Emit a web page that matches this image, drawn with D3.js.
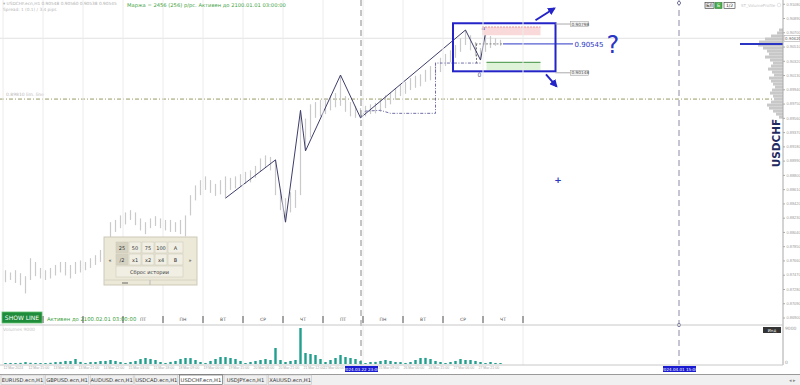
<!DOCTYPE html>
<html>
<head>
<meta charset="utf-8">
<script src="https://cdn.jsdelivr.net/npm/d3@7"></script>
<style>
  body { margin: 0; background: #fff; }
  svg { display: block; font-family: "DejaVu Sans", sans-serif; }
</style>
</head>
<body>
<div id="chart"></div>
<script>
// H1 chart shown as 3-hour bars (8 per trading day), 12 Mar - 28 Mar 2024
const barHighs = [
  0.8753, 0.8750, 0.8753, 0.8749, 0.8745, 0.8769, 0.8764, 0.8756, 0.8753, 0.8756,
  0.8760, 0.8764, 0.8764, 0.8760, 0.8764, 0.8766, 0.8764, 0.8769, 0.8773, 0.8780,
  0.8793, 0.8817, 0.8820, 0.8826, 0.8830, 0.8833, 0.8830, 0.8822, 0.8817, 0.8822,
  0.8825, 0.8822, 0.8820, 0.8820, 0.8817, 0.8820, 0.8826, 0.8853, 0.8866, 0.8873,
  0.8878, 0.8873, 0.8868, 0.8873, 0.8878, 0.8876, 0.8878, 0.8881, 0.8884, 0.8886,
  0.8892, 0.8902, 0.8906, 0.8904, 0.8900, 0.8860, 0.8849, 0.8857, 0.8860, 0.8966,
  0.8955, 0.8974, 0.8977, 0.8980, 0.8982, 0.8986, 0.8989, 0.9013, 0.8985, 0.8977,
  0.8972, 0.8969, 0.8972, 0.8974, 0.8976, 0.8980, 0.8986, 0.8990, 0.8996, 0.9000,
  0.9004, 0.9009, 0.9012, 0.9014, 0.9020, 0.9025, 0.9030, 0.9036, 0.9041, 0.9046,
  0.9053, 0.9062, 0.9073, 0.9066, 0.9057, 0.9049, 0.9069, 0.9065, 0.9062, 0.9060
];
const barLows = [
  0.8737, 0.8740, 0.8736, 0.8733, 0.8722, 0.8740, 0.8745, 0.8742, 0.8740, 0.8742,
  0.8746, 0.8750, 0.8746, 0.8742, 0.8748, 0.8750, 0.8753, 0.8756, 0.8760, 0.8764,
  0.8772, 0.8786, 0.8804, 0.8809, 0.8814, 0.8820, 0.8813, 0.8806, 0.8801, 0.8809,
  0.8812, 0.8809, 0.8806, 0.8804, 0.8804, 0.8801, 0.8798, 0.8826, 0.8846, 0.8853,
  0.8860, 0.8856, 0.8852, 0.8854, 0.8849, 0.8860, 0.8862, 0.8865, 0.8868, 0.8870,
  0.8876, 0.8884, 0.8889, 0.8886, 0.8853, 0.8833, 0.8817, 0.8830, 0.8836, 0.8853,
  0.8912, 0.8930, 0.8956, 0.8958, 0.8961, 0.8966, 0.8970, 0.8972, 0.8964, 0.8958,
  0.8956, 0.8956, 0.8958, 0.8961, 0.8962, 0.8964, 0.8969, 0.8974, 0.8980, 0.8985,
  0.8988, 0.8993, 0.8996, 0.8998, 0.9004, 0.9006, 0.9012, 0.9017, 0.9025, 0.9030,
  0.9036, 0.9044, 0.9053, 0.9046, 0.9038, 0.9033, 0.9044, 0.9049, 0.9052, 0.9052
];
const volumes = [
  250, 260, 240, 280, 480, 300, 260, 240,
  240, 300, 480, 520, 760, 740, 1250, 520,
  260, 480, 500, 740, 760, 1000, 760, 480,
  260, 500, 760, 1240, 1500, 1260, 1000, 500,
  260, 520, 760, 1260, 1500, 1480, 1000, 500,
  260, 760, 1250, 1750, 1740, 1500, 1260, 760,
  250, 500, 760, 1000, 1240, 1000, 4000, 1000,
  500, 760, 1000, 9000, 2750, 2500, 2250, 1250,
  500, 1000, 1500, 2250, 1750, 1500, 1250, 760,
  250, 500, 520, 760, 1000, 760, 500, 480,
  260, 500, 1000, 1500, 1520, 1250, 760, 500,
  250, 500, 760, 1250, 1000, 1000, 760, 500,
  250, 500, 260, 240
];
// first three day labels sit under the SHOW LINE button and status text
const dayLabels = ["ВТ", "СР", "ЧТ", "ПТ", "ПН", "ВТ", "СР", "ЧТ", "ПТ", "ПН", "ВТ", "СР", "ЧТ"];
const hiddenDays = 3;
const timeLabelBars = [0, 5, 10, 15, 20, 25, 30, 35, 40, 45, 50, 55, 60, 64, 75, 80, 85, 90, 95];
const timeLabelTexts = ["12 Mar 2024", "12 Mar 15:00", "13 Mar 06:00", "13 Mar 21:00", "14 Mar 12:00",
  "15 Mar 03:00", "15 Mar 18:00", "18 Mar 09:00", "19 Mar 00:00", "19 Mar 15:00", "20 Mar 06:00",
  "20 Mar 21:00", "21 Mar 12:00", "22 Mar 00:00", "25 Mar 09:00", "26 Mar 00:00", "26 Mar 15:00",
  "27 Mar 06:00", "27 Mar 21:00"];
const priceTicks = [0.9108, 0.9089, 0.9070, 0.9051, 0.9032, 0.9013, 0.8994, 0.8975, 0.8956, 0.8937,
  0.8918, 0.8899, 0.8880, 0.8861, 0.8842, 0.8823, 0.8804, 0.8785, 0.8766, 0.8747, 0.8728, 0.8709, 0.8690];
const zigzagBars = [44, 54, 56, 59, 60, 67, 71, 92, 95, 96];
const zigzagPrices = [0.8849, 0.8900, 0.8817, 0.8966, 0.8912, 0.9013, 0.8956, 0.9073, 0.9033, 0.9069];
const stepBars = [71, 72, 75, 77, 86, 86, 95];
const stepPrices = [0.8957, 0.8965, 0.8966, 0.8962, 0.8962, 0.9029, 0.9029];
const profilePrices = [0.9073, 0.9069, 0.9065, 0.9061, 0.9057, 0.9053, 0.9049, 0.9045, 0.9041, 0.9037,
  0.9033, 0.9029, 0.9025, 0.9021, 0.9017, 0.9013, 0.9009, 0.9005, 0.9001, 0.8997,
  0.8993, 0.8989, 0.8985, 0.8981, 0.8977, 0.8973, 0.8969, 0.8965, 0.8961, 0.8957];
const profileVolumes = [16, 24, 48, 72, 96, 100, 80, 64, 56, 72, 52, 40, 48, 60, 44, 36, 56, 48, 40, 32,
  44, 52, 40, 36, 48, 64, 56, 40, 28, 16];
const tabs = ["EURUSD.ecn,H1", "GBPUSD.ecn,H1", "AUDUSD.ecn,H1", "USDCAD.ecn,H1",
  "USDCHF.ecn,H1", "USDJPY.ecn,H1", "XAUUSD.ecn,H1"];
const activeTab = "USDCHF.ecn,H1";
const levelPrice = 0.90545, bidPrice = 0.9062, limPrice = 0.8981;

const W = 800, H = 385;
const plotRight = 783, mainBottom = 325, volBottom = 365;

const svg = d3.select("#chart").append("svg").attr("width", W).attr("height", H);
svg.append("rect").attr("width", W).attr("height", H).attr("fill", "#fff");

// scales
const x = d3.scaleLinear().domain([0, 100]).range([5.5, 505.5]);
const y = d3.scaleLinear().domain([0.8680, 0.9113]).range([mainBottom, 0]);
const yVol = d3.scaleLinear().domain([0, 10000]).range([364, 324]);
const xProf = d3.scaleLinear().domain([0, 100]).range([plotRight, plotRight - 25]);

svg.append("clipPath").attr("id", "clipMain")
  .append("rect").attr("width", plotRight).attr("height", mainBottom);
const main = svg.append("g").attr("clip-path", "url(#clipMain)");

// day separators / grid
const dayBounds = d3.range(dayLabels.length + 1).map(k => 8 * k - 0.5);
svg.append("g").selectAll("line").data(dayBounds).join("line")
  .attr("x1", d => x(d)).attr("x2", d => x(d))
  .attr("y1", 0).attr("y2", volBottom)
  .attr("stroke", "#ececec");

main.append("line").attr("x1", 0).attr("x2", plotRight)
  .attr("y1", y(bidPrice)).attr("y2", y(bidPrice)).attr("stroke", "#e2e2e2");
main.append("line").attr("x1", 0).attr("x2", plotRight)
  .attr("y1", y(limPrice)).attr("y2", y(limPrice))
  .attr("stroke", "#9a9a66").attr("stroke-dasharray", "4,2,1,2");
main.append("text").attr("x", 6).attr("y", y(limPrice) - 3)
  .attr("font-size", 4.5).attr("fill", "#b8b8b8").text("0.89810 lim. line");

// volume profile
main.append("g").selectAll("rect").data(profilePrices).join("rect")
  .attr("x", (d, i) => xProf(profileVolumes[i]))
  .attr("width", (d, i) => plotRight - xProf(profileVolumes[i]))
  .attr("y", d => y(d + 0.0002))
  .attr("height", d => y(d - 0.0002) - y(d + 0.0002))
  .attr("fill", "#c8c8c8");
main.append("line").attr("x1", 740).attr("x2", plotRight)
  .attr("y1", y(levelPrice)).attr("y2", y(levelPrice))
  .attr("stroke", "#2a35c4").attr("stroke-width", 2);

// bars
main.append("g").selectAll("line").data(barHighs).join("line")
  .attr("x1", (d, i) => x(i)).attr("x2", (d, i) => x(i))
  .attr("y1", d => y(d)).attr("y2", (d, i) => y(barLows[i]))
  .attr("stroke", "#cacaca").attr("stroke-width", 1.2);

// vertical dashed markers
const markers = [{ bar: 71.1, label: "2024.03.22 23:00", color: "#8a8a8a" },
                 { bar: 134.7, label: "2024.04.01 15:00", color: "#8a8aa8" }];
svg.append("g").selectAll("line").data(markers).join("line")
  .attr("x1", d => x(d.bar)).attr("x2", d => x(d.bar))
  .attr("y1", 0).attr("y2", volBottom)
  .attr("stroke", d => d.color).attr("stroke-dasharray", "6,4");
svg.append("circle").attr("cx", x(134.7)).attr("cy", 3).attr("r", 1.6)
  .attr("fill", "#fff").attr("stroke", "#7a7aa0");
svg.append("circle").attr("cx", x(134.7)).attr("cy", mainBottom).attr("r", 1.6)
  .attr("fill", "#fff").attr("stroke", "#7a7aa0");

// step (dash-dot) line
main.append("path")
  .datum(stepBars.map((b, i) => [x(b), y(stepPrices[i])]))
  .attr("d", d3.line()).attr("fill", "none")
  .attr("stroke", "#6f6fa8").attr("stroke-dasharray", "3,1.5,1,1.5");
main.append("line").attr("x1", x(94.2)).attr("x2", x(94.2))
  .attr("y1", y(levelPrice)).attr("y2", y(0.9029))
  .attr("stroke", "#777").attr("stroke-dasharray", "2,1.5");
main.append("line").attr("x1", x(94)).attr("x2", x(99.5))
  .attr("y1", y(levelPrice)).attr("y2", y(levelPrice))
  .attr("stroke", "#888").attr("stroke-dasharray", "2,1.5");

// zigzag
main.append("path")
  .datum(zigzagBars.map((b, i) => [x(b), y(zigzagPrices[i])]))
  .attr("d", d3.line()).attr("fill", "none")
  .attr("stroke", "#3d3d6b").attr("stroke-width", 1);

// annotation zones
main.append("rect").attr("x", x(95.3)).attr("width", x(107) - x(95.3))
  .attr("y", y(0.9077)).attr("height", y(0.9066) - y(0.9077))
  .attr("fill", "#f9d9d9");
main.append("line").attr("x1", x(95.3)).attr("x2", x(107))
  .attr("y1", y(0.9077)).attr("y2", y(0.9077))
  .attr("stroke", "#e29a9a").attr("stroke-dasharray", "2,1");
main.append("rect").attr("x", x(96.2)).attr("width", x(107) - x(96.2))
  .attr("y", y(0.9030)).attr("height", y(0.9019) - y(0.9030))
  .attr("fill", "#dff3d8");
main.append("line").attr("x1", x(96.2)).attr("x2", x(107))
  .attr("y1", y(0.9030)).attr("y2", y(0.9030))
  .attr("stroke", "#3f8f3f");
main.append("text").attr("x", x(95.2)).attr("y", y(0.9073)).attr("font-size", 6)
  .attr("fill", "#7a4a9a").text("a");
main.append("text").attr("x", x(94.4)).attr("y", y(0.9011)).attr("font-size", 6)
  .attr("fill", "#5a5a9a").text("0");

// blue box + arrows
main.append("rect").attr("x", x(89.5)).attr("width", x(110) - x(89.5))
  .attr("y", y(0.9082)).attr("height", y(0.9018) - y(0.9082))
  .attr("fill", "none").attr("stroke", "#2323c8").attr("stroke-width", 2);
svg.append("defs").append("marker").attr("id", "arr")
  .attr("viewBox", "0 0 10 10").attr("refX", 8).attr("refY", 5)
  .attr("markerWidth", 4).attr("markerHeight", 4).attr("orient", "auto")
  .append("path").attr("d", "M0,0L10,5L0,10z").attr("fill", "#2323c8");
const arrows = [[106, 0.9086, 109.8, 0.9102], [108.1, 0.9014, 110.2, 0.8998]];
main.append("g").selectAll("line").data(arrows).join("line")
  .attr("x1", d => x(d[0])).attr("y1", d => y(d[1]))
  .attr("x2", d => x(d[2])).attr("y2", d => y(d[3]))
  .attr("stroke", "#2323c8").attr("stroke-width", 2).attr("marker-end", "url(#arr)");

// price tags at box edges
const boxTags = [[0.9081, "0.90798"], [0.9016, "0.90148"]];
const tagG = main.append("g").selectAll("g").data(boxTags).join("g");
tagG.append("line").attr("x1", x(110)).attr("x2", x(113))
  .attr("y1", d => y(d[0])).attr("y2", d => y(d[0])).attr("stroke", "#aaa");
tagG.append("rect").attr("x", x(113)).attr("y", d => y(d[0]) - 2.5)
  .attr("width", 18).attr("height", 5).attr("fill", "#f2f2f2").attr("stroke", "#999").attr("stroke-width", 0.5);
tagG.append("text").attr("x", x(113) + 1).attr("y", d => y(d[0]) + 1.6)
  .attr("font-size", 4.3).attr("fill", "#555").text(d => d[1]);

// 0.90545 level
main.append("line").attr("x1", x(99.5)).attr("x2", x(113.5))
  .attr("y1", y(levelPrice)).attr("y2", y(levelPrice))
  .attr("stroke", "#2a35c4").attr("stroke-width", 1);
main.append("text").attr("x", x(113.8)).attr("y", y(levelPrice) + 2.6)
  .attr("font-size", 7).attr("fill", "#2a35c4").text(levelPrice.toFixed(5));
main.append("text").attr("x", x(120.2)).attr("y", y(levelPrice) + 9)
  .attr("font-size", 24).attr("fill", "#2a35c4").text("?");
main.append("text").attr("x", x(110.5)).attr("y", y(0.8873) + 3)
  .attr("font-size", 9).attr("font-weight", "bold").attr("text-anchor", "middle")
  .attr("fill", "#2a35c4").text("+");

// symbol name
svg.append("text").attr("transform", `translate(780,143) rotate(-90)`)
  .attr("text-anchor", "middle").attr("font-size", 10.5).attr("font-weight", "bold")
  .attr("fill", "#1f2a5e").text("USDCHF");

// price axis
svg.append("line").attr("x1", plotRight).attr("x2", plotRight).attr("y1", 0).attr("y2", volBottom)
  .attr("stroke", "#a8a8a8");
const yAxis = svg.append("g").attr("transform", `translate(${plotRight},0)`)
  .call(d3.axisRight(y).tickValues(priceTicks).tickSize(2).tickFormat(d3.format(".5f")));
yAxis.select(".domain").remove();
yAxis.selectAll("line").attr("stroke", "#aaa");
yAxis.selectAll("text").attr("font-size", 3.9).attr("fill", "#999").attr("dx", -1.5);
svg.append("rect").attr("x", plotRight + 1).attr("y", y(bidPrice) - 3).attr("width", 16).attr("height", 6)
  .attr("fill", "#fff").attr("stroke", "#999").attr("stroke-width", 0.5);
svg.append("text").attr("x", plotRight + 2).attr("y", y(bidPrice) + 1.5).attr("font-size", 3.9)
  .attr("fill", "#666").text(bidPrice.toFixed(5));

// day labels bar
svg.append("g").selectAll("line").data(dayBounds).join("line")
  .attr("x1", d => x(d)).attr("x2", d => x(d))
  .attr("y1", 316).attr("y2", 323).attr("stroke", "#555");
svg.append("g").selectAll("text").data(dayLabels.slice(hiddenDays)).join("text")
  .attr("x", (d, i) => x(8 * (i + hiddenDays) + 3.5)).attr("y", 321)
  .attr("text-anchor", "middle").attr("font-size", 4.5).attr("fill", "#555").text(d => d);

// volume window
svg.append("line").attr("x1", 0).attr("x2", plotRight).attr("y1", mainBottom).attr("y2", mainBottom)
  .attr("stroke", "#c8c8c8");
svg.append("line").attr("x1", 0).attr("x2", plotRight).attr("y1", volBottom).attr("y2", volBottom)
  .attr("stroke", "#c8c8c8");
svg.append("g").selectAll("rect").data(volumes).join("rect")
  .attr("x", (d, i) => x(i) - 1.2).attr("width", 2.4)
  .attr("y", d => yVol(d)).attr("height", d => yVol(0) - yVol(d))
  .attr("fill", "#22a08e");
svg.append("text").attr("x", 3).attr("y", 331).attr("font-size", 4.5).attr("fill", "#c4c4c4")
  .text("Volumes 9000");
svg.append("text").attr("x", plotRight + 2).attr("y", 330).attr("font-size", 4.5).attr("fill", "#999").text("9000");
svg.append("text").attr("x", plotRight + 2).attr("y", 364).attr("font-size", 4.5).attr("fill", "#999").text("0");
svg.append("rect").attr("x", 763).attr("y", 327).attr("width", 18).attr("height", 6).attr("fill", "#333");
svg.append("text").attr("x", 772).attr("y", 331.7).attr("text-anchor", "middle")
  .attr("font-size", 4).attr("fill", "#fff").text("Инд");

// time axis
const xAxis = svg.append("g").attr("transform", `translate(0,${volBottom})`)
  .call(d3.axisBottom(x).tickValues(timeLabelBars).tickSize(0)
    .tickFormat((d, i) => timeLabelTexts[i]));
xAxis.select(".domain").remove();
xAxis.selectAll("text").attr("font-size", 3.5).attr("fill", "#aaa")
  .attr("text-anchor", "start").attr("dx", -2.5).attr("dy", "0.4em");
const markG = svg.append("g").selectAll("g").data(markers).join("g");
markG.append("rect").attr("x", d => x(d.bar) - 16).attr("y", 366).attr("width", 33).attr("height", 6)
  .attr("fill", "#1a1ad0");
markG.append("text").attr("x", d => x(d.bar) + 0.5).attr("y", 370.5).attr("text-anchor", "middle")
  .attr("font-size", 4.1).attr("fill", "#fff").text(d => d.label);

// tab bar
svg.append("rect").attr("x", 0).attr("y", 374).attr("width", W).attr("height", 11).attr("fill", "#f0f0f0");
svg.append("line").attr("x1", 0).attr("x2", W).attr("y1", 374.5).attr("y2", 374.5).attr("stroke", "#9a9a9a");
const tabG = svg.append("g").selectAll("g").data(tabs).join("g")
  .attr("transform", (d, i) => `translate(${1 + i * 44.6},375)`);
tabG.append("rect").attr("width", 43).attr("height", 9.5)
  .attr("fill", d => d === activeTab ? "#fff" : "#f0f0f0")
  .attr("stroke", d => d === activeTab ? "#555" : "#c0c0c0").attr("stroke-width", 0.6);
tabG.append("text").attr("x", 21.5).attr("y", 6.6).attr("text-anchor", "middle")
  .attr("font-size", 5.2).attr("fill", "#333").text(d => d);
svg.append("text").attr("x", 789).attr("y", 382).attr("font-size", 5).attr("fill", "#888").text("◂ ▸");

// header texts
svg.append("text").attr("x", 3).attr("y", 5).attr("font-size", 4.3).attr("fill", "#b0b0b0")
  .text("▾ USDCHF.ecn,H1  0.90548 0.90560 0.90538 0.90545");
svg.append("text").attr("x", 3).attr("y", 11).attr("font-size", 4.3).attr("fill", "#b8b8b8")
  .text("Spread: 1 (0.1) / 3.4 pips");
svg.append("text").attr("x", 127).attr("y", 6.5).attr("font-size", 5.2).attr("fill", "#3f9f3f")
  .text("Маржа = 2456 (256) р/рс. Активен до 2100.01.01 03:00:00");

// top-right buttons
const topBtns = [{ t: "БЛ", x: 705, w: 9, fill: "#e8e8e8", stroke: "#333" },
                 { t: "Б", x: 715, w: 7, fill: "#4caf50", stroke: "#2e7d32" },
                 { t: "1/2", x: 724, w: 11, fill: "#fff", stroke: "#333" }];
const tb = svg.append("g").selectAll("g").data(topBtns).join("g");
tb.append("rect").attr("x", d => d.x).attr("y", 2.5).attr("width", d => d.w).attr("height", 6)
  .attr("fill", d => d.fill).attr("stroke", d => d.stroke).attr("stroke-width", 0.6);
tb.append("text").attr("x", d => d.x + d.w / 2).attr("y", 7.2).attr("text-anchor", "middle")
  .attr("font-size", 4.5).attr("fill", d => d.t === "Б" ? "#fff" : "#222").text(d => d.t);
svg.append("text").attr("x", 741).attr("y", 7).attr("font-size", 4).attr("fill", "#c8c8c8").text("ST_VolumeProfile");
svg.append("circle").attr("cx", 779).attr("cy", 5).attr("r", 1.8).attr("fill", "none").attr("stroke", "#ccc").attr("stroke-width", 0.5);

// SHOW LINE button
svg.append("rect").attr("x", 2).attr("y", 312).attr("width", 40).attr("height", 11)
  .attr("fill", "#1e8c3a").attr("stroke", "#5cbf6c").attr("stroke-width", 0.8);
svg.append("text").attr("x", 22).attr("y", 319.5).attr("text-anchor", "middle")
  .attr("font-size", 6).attr("fill", "#fff").text("SHOW LINE");
svg.append("text").attr("x", 47).attr("y", 320.5).attr("font-size", 5.3).attr("fill", "#3f9f3f")
  .text("Активен до 2100.02.01 03:00:00");

// scale panel
const panel = svg.append("g");
panel.append("rect").attr("x", 104).attr("y", 237).attr("width", 93).attr("height", 48)
  .attr("fill", "#ece9d8").attr("stroke", "#cdc9b8");
const panelBtns = [
  { t: "25", x: 116, y: 242, w: 12, on: true }, { t: "50", x: 129, y: 242, w: 12 },
  { t: "75", x: 142, y: 242, w: 12 }, { t: "100", x: 155, y: 242, w: 12 },
  { t: "A", x: 168, y: 242, w: 15 },
  { t: "/2", x: 116, y: 254, w: 12, on: true }, { t: "x1", x: 129, y: 254, w: 12 },
  { t: "x2", x: 142, y: 254, w: 12 }, { t: "x4", x: 155, y: 254, w: 12 },
  { t: "B", x: 168, y: 254, w: 15 },
  { t: "Сброс истории", x: 116, y: 266, w: 67 },
  { t: "«", x: 105, y: 242, w: 10, flat: true }, { t: "»", x: 184, y: 242, w: 12, flat: true }];
const pb = panel.selectAll("g").data(panelBtns).join("g");
pb.append("rect").attr("x", d => d.x).attr("y", d => d.y)
  .attr("width", d => d.w).attr("height", d => d.flat ? 36 : 11)
  .attr("fill", d => d.on ? "#d6d2c2" : (d.flat ? "#ece9d8" : "#f1efe4"))
  .attr("stroke", d => d.flat ? "none" : "#d0ccbc").attr("stroke-width", 0.6);
pb.append("text").attr("x", d => d.x + d.w / 2).attr("y", d => d.flat ? 262 : d.y + 7.5)
  .attr("text-anchor", "middle").attr("font-size", 5).attr("fill", "#333").text(d => d.t);
panel.append("line").attr("x1", 104).attr("x2", 197).attr("y1", 280).attr("y2", 280).attr("stroke", "#d8d4c4");
panel.append("line").attr("x1", 122).attr("x2", 128).attr("y1", 283).attr("y2", 283).attr("stroke", "#666");
panel.append("line").attr("x1", 150).attr("x2", 150).attr("y1", 280).attr("y2", 285).attr("stroke", "#bbb");
</script>
</body>
</html>
